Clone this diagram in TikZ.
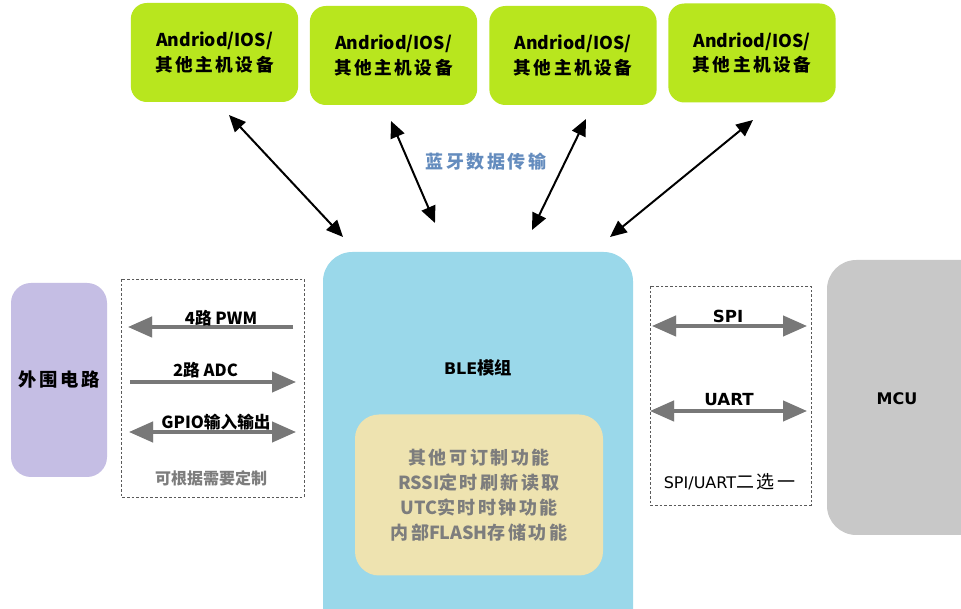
\documentclass[tikz,border=0pt]{standalone}
\usepackage{fontspec}
\setmainfont{Noto Sans CJK SC}
\newfontfamily\cjfont{Noto Sans CJK SC}[LetterSpace=14]
\newfontfamily\latv{DejaVu Sans}
\newcommand\cjt[1]{{\cjfont #1}}
\newcommand\lv[1]{{\latv #1}}
\usetikzlibrary{arrows.meta}
\definecolor{hostgreen}{RGB}{184,230,30}
\definecolor{bleblue}{RGB}{154,216,234}
\definecolor{funcyellow}{RGB}{238,227,176}
\definecolor{periph}{RGB}{197,190,228}
\definecolor{mcugray}{RGB}{200,200,200}
\definecolor{labelblue}{RGB}{100,140,190}
\definecolor{textgray}{RGB}{125,125,125}
\definecolor{arrowgray}{RGB}{120,120,120}
\definecolor{dashgray}{RGB}{90,90,90}
\definecolor{shadowgray}{RGB}{215,215,215}
\tikzset{
  gtip/.tip={Triangle[length=18pt,width=15pt]},
  btip/.tip={Triangle[length=12.5pt,width=11pt]},
  host/.style={fill=hostgreen, rounded corners=12pt, minimum width=125.5pt, minimum height=74.25pt,
    align=center, font=\fontsize{13.25pt}{18.5pt}\selectfont\bfseries, text=black},
  bt/.style={draw=black, line width=1.5pt, {btip}-{btip}},
  garrow/.style={draw=arrowgray, line width=3pt},
  gshadow/.style={draw=shadowgray, line width=3pt},
  dashbox/.style={draw=dashgray, line width=0.6pt, dash pattern=on 2pt off 1.5pt},
  lbl/.style={font=\fontsize{12.5pt}{14pt}\selectfont\bfseries, text=black, inner sep=0pt},
}
\begin{document}
\begin{tikzpicture}[x=0.75pt,y=-0.75pt]
\useasboundingbox (0,0) rectangle (961,609);
\clip (0,0) rectangle (961,609);
\fill[white] (0,0) rectangle (961,609);

% host devices
\node[host] (h1) at (214.5,52.5) {Andriod/IOS/\\\cjt{其他主机设备}};
\node[host] (h2) at (393.5,55.5) {Andriod/IOS/\\\cjt{其他主机设备}};
\node[host] (h3) at (573,55.5) {Andriod/IOS/\\\cjt{其他主机设备}};
\node[host] (h4) at (752,53) {Andriod/IOS/\\\cjt{其他主机设备}};

% BLE module
\fill[bleblue, rounded corners=22pt] (323,252) rectangle (633,660);
\node[font=\fontsize{13pt}{15pt}\selectfont\bfseries] (ble) at (478,368) {{\latv\fontsize{12pt}{15pt}\selectfont BLE}模组};
\node[fill=funcyellow, rounded corners=18pt, minimum width=186pt, minimum height=120.75pt,
  align=center, text=textgray, font=\fontsize{13.5pt}{18.75pt}\selectfont\bfseries] (func) at (479,495)
  {\cjt{其他可订制功能}\\RSSI\cjt{定时刷新读取}\\UTC\cjt{实时时钟功能}\\\cjt{内部}FLASH\cjt{存储功能}};

% Bluetooth arrows
\coordinate (b1a) at (229,115); \coordinate (b1b) at (343,237);
\coordinate (b2a) at (391,121); \coordinate (b2b) at (435,223);
\coordinate (b3a) at (586,119); \coordinate (b3b) at (532,230);
\coordinate (b4a) at (753,120); \coordinate (b4b) at (610,237);
\draw[bt] (b1a) -- (b1b);
\draw[bt] (b2a) -- (b2b);
\draw[bt] (b3a) -- (b3b);
\draw[bt] (b4a) -- (b4b);
\node[font=\fontsize{13.5pt}{15pt}\selectfont\bfseries\cjfont, text=labelblue] (btlabel) at (486,162) {蓝牙数据传输};

% peripheral circuit
\node[fill=periph, rounded corners=15pt, minimum width=72pt, minimum height=145.5pt,
  font=\fontsize{13.75pt}{16pt}\selectfont\bfseries\cjfont] (per) at (59,380) {外围电路};
\draw[dashbox] (121,279) rectangle (304,497);
\coordinate (pwmR) at (293,327); \coordinate (pwmL) at (128,327);
\coordinate (adcL) at (130,382); \coordinate (adcR) at (296,382);
\coordinate (gpL) at (129,432); \coordinate (gpR) at (296,432);
\begin{scope}[shift={(2,3)}]
\draw[gshadow, -{gtip}] (pwmR) -- (pwmL);
\draw[gshadow, -{gtip}] (adcL) -- (adcR);
\draw[gshadow, {gtip}-{gtip}] (gpL) -- (gpR);
\end{scope}
\draw[garrow, -{gtip}] (pwmR) -- (pwmL);
\draw[garrow, -{gtip}] (adcL) -- (adcR);
\draw[garrow, {gtip}-{gtip}] (gpL) -- (gpR);
\node[lbl] (lpwm) at (221,318) {4路 PWM};
\node[lbl] (ladc) at (205.5,370) {2路 ADC};
\node[lbl] (lgp) at (216,422) {GPIO输入输出};
\node[lbl, text=textgray, font=\fontsize{12pt}{14pt}\selectfont\bfseries] (lcust) at (211,478) {可根据需要定制};

% MCU side
\draw[dashbox] (650,286) rectangle (811,505);
\coordinate (spiL) at (652,326); \coordinate (spiR) at (807,326);
\coordinate (uaL) at (650,411); \coordinate (uaR) at (807,411);
\begin{scope}[shift={(2,3)}]
\draw[gshadow, {gtip}-{gtip}] (spiL) -- (spiR);
\draw[gshadow, {gtip}-{gtip}] (uaL) -- (uaR);
\end{scope}
\draw[garrow, {gtip}-{gtip}] (spiL) -- (spiR);
\draw[garrow, {gtip}-{gtip}] (uaL) -- (uaR);
\node[lbl, font=\fontsize{12.5pt}{14pt}\selectfont\bfseries\latv] (lspi) at (728,316) {SPI};
\node[lbl, font=\fontsize{12.5pt}{14pt}\selectfont\bfseries\latv] (luart) at (729,400) {UART};
\node[font=\fontsize{12pt}{14pt}\selectfont, inner sep=0pt] (lsel) at (729.5,482) {\lv{SPI/UART}\cjt{\fontsize{13.5pt}{14pt}\selectfont 二选一}};
\fill[mcugray, rounded corners=22pt] (827,260) rectangle (1000,535);
\node[font=\fontsize{12pt}{15pt}\selectfont\bfseries\latv] (mcu) at (897,399) {MCU};
\end{tikzpicture}
\end{document}
